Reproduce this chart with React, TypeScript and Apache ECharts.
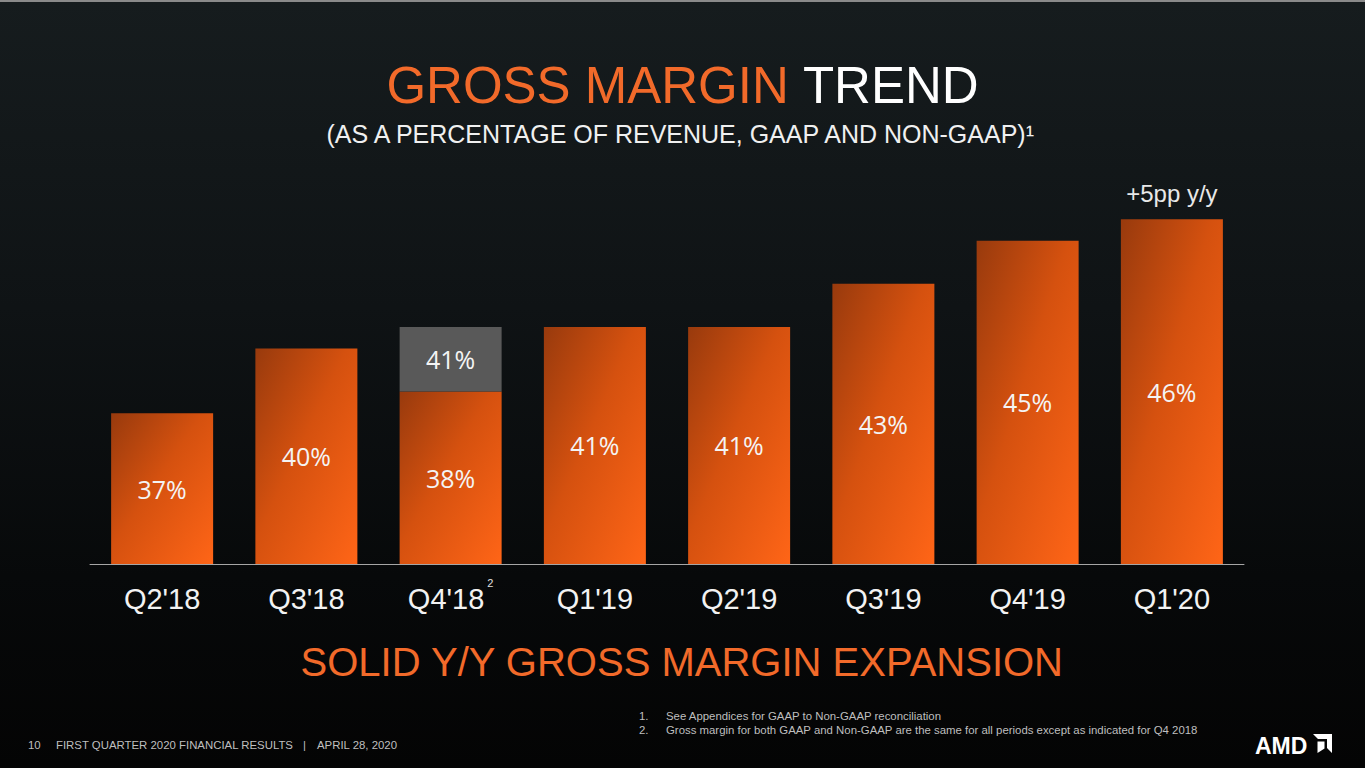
import React, { useEffect, useRef } from 'react';
import * as echarts from 'echarts';

const quarters = ["Q2'18", "Q3'18", "Q4'18", "Q1'19", "Q2'19", "Q3'19", "Q4'19", "Q1'20"];
const gaapMargin = [37, 40, 38, 41, 41, 43, 45, 46];
const nonGaapMargin = [37, 40, 41, 41, 41, 43, 45, 46];
const footnoteQuarter = "Q4'18";
const yoyNote = '+5pp y/y';
const footnotes = [
  'See Appendices for GAAP to Non-GAAP reconciliation',
  'Gross margin for both GAAP and Non-GAAP are the same for all periods except as indicated for Q4 2018',
];

const ORANGE = '#f26a2a';
const FOOT = { fontFamily: 'Liberation Sans', fontSize: 11.4, fill: '#bfbfbf' };

export default function App() {
  const ref = useRef<HTMLDivElement>(null);

  useEffect(() => {
    if (!ref.current) return;
    const chart = echarts.init(ref.current, null, { renderer: 'svg' });

    // non-GAAP uplift stacked on top of GAAP (only where they differ)
    const uplift = nonGaapMargin.map((v, i) => (v - gaapMargin[i] > 0 ? v - gaapMargin[i] : '-'));
    const last = quarters.length - 1;

    const barFill = {
      type: 'linear', x: 0, y: 0, x2: 1, y2: 1,
      colorStops: [
        { offset: 0, color: '#983a0d' },
        { offset: 0.45, color: '#d5510f' },
        { offset: 1, color: '#ff6517' },
      ],
    };

    chart.setOption({
      animation: false,
      backgroundColor: '#08090a',
      grid: { left: 90, right: 121, top: 133, bottom: 204 },
      xAxis: {
        type: 'category',
        data: quarters,
        axisLine: { lineStyle: { color: '#a6a6a6', width: 1 } },
        axisTick: { show: false },
        axisLabel: {
          margin: 13,
          formatter: (v: string) => (v === footnoteQuarter ? `{a|${v}}{s|2}` : `{a|${v}}`),
          rich: {
            a: { fontFamily: 'Liberation Sans', fontSize: 29, color: '#f2f2f2', lineHeight: 44 },
            s: { fontFamily: 'Liberation Sans', fontSize: 11, color: '#e0e0e0', lineHeight: 11, verticalAlign: 'top', padding: [0, 0, 0, 3] },
          },
        },
      },
      yAxis: { type: 'value', min: 30, max: 50, show: false, splitLine: { show: false } },
      series: [
        {
          name: 'GAAP',
          type: 'bar',
          stack: 'gm',
          barWidth: 102,
          data: gaapMargin,
          itemStyle: { color: barFill },
          label: {
            show: true,
            position: 'inside',
            formatter: '{c}%',
            fontFamily: 'Open Sans',
            fontSize: 25,
            color: '#f4f4f4',
          },
          markPoint: {
            symbol: 'rect',
            symbolSize: 0,
            data: [{ coord: [quarters[last], gaapMargin[last]] }],
            label: {
              show: true,
              position: 'top',
              distance: 14,
              formatter: yoyNote,
              fontFamily: 'Liberation Sans',
              fontSize: 24,
              color: '#e8e8e8',
            },
          },
        },
        {
          name: 'Non-GAAP',
          type: 'bar',
          stack: 'gm',
          barWidth: 102,
          data: uplift,
          itemStyle: { color: '#595959' },
          label: {
            show: true,
            position: 'inside',
            formatter: (p: any) => `${nonGaapMargin[p.dataIndex]}%`,
            fontFamily: 'Open Sans',
            fontSize: 25,
            color: '#f4f4f4',
          },
        },
      ],
      graphic: [
        {
          type: 'rect', z: -10, silent: true,
          shape: { x: 0, y: 0, width: 1365, height: 768 },
          style: {
            fill: {
              type: 'linear', x: 0, y: 0, x2: 0, y2: 1,
              colorStops: [
                { offset: 0, color: '#161c1e' },
                { offset: 0.4, color: '#0f1315' },
                { offset: 0.75, color: '#07090a' },
                { offset: 1, color: '#040404' },
              ],
            },
          },
        },
        { type: 'rect', z: -9, shape: { x: 0, y: 0, width: 1365, height: 2 }, style: { fill: '#8a8a8a' } },
        {
          type: 'text', left: 'center', top: 60,
          style: {
            text: '{o|GROSS MARGIN }{w|TREND}',
            rich: {
              o: { fontFamily: 'Liberation Sans', fontSize: 51, fill: ORANGE },
              w: { fontFamily: 'Liberation Sans', fontSize: 51, fill: '#ffffff' },
            },
          },
        },
        {
          type: 'text', left: 'center', top: 121,
          style: {
            text: '(AS A PERCENTAGE OF REVENUE, GAAP AND NON-GAAP)\u00b9',
            fontFamily: 'Liberation Sans', fontSize: 25, fill: '#f0f0f0',
          },
        },
        {
          type: 'text', left: 'center', top: 642,
          style: {
            text: 'SOLID Y/Y GROSS MARGIN EXPANSION',
            fontFamily: 'Liberation Sans', fontSize: 40, fill: ORANGE,
          },
        },
        ...footnotes.map((t, i) => ({
          type: 'group', left: 639, top: 710 + i * 14,
          children: [
            { type: 'text', x: 0, y: 0, style: { text: `${i + 1}.`, ...FOOT } },
            { type: 'text', x: 27, y: 0, style: { text: t, ...FOOT } },
          ],
        })),
        { type: 'text', left: 28, top: 739, style: { text: '10', ...FOOT } },
        { type: 'text', left: 56, top: 739, style: { text: 'FIRST QUARTER 2020 FINANCIAL RESULTS', ...FOOT } },
        { type: 'text', left: 303, top: 739, style: { text: '|', ...FOOT } },
        { type: 'text', left: 317, top: 739, style: { text: 'APRIL 28, 2020', ...FOOT } },
        {
          type: 'text', left: 1255, top: 734,
          style: { text: 'AMD', fontFamily: 'Liberation Sans', fontWeight: 'bold', fontSize: 23, fill: '#ffffff' },
        },
        {
          type: 'group', x: 1313, y: 734,
          children: [
            { type: 'polygon', shape: { points: [[0, 0], [19, 0], [19, 19], [14, 14], [14, 5], [5, 5]] }, style: { fill: '#ffffff' } },
            { type: 'polygon', shape: { points: [[4.5, 7.5], [11.5, 7.5], [11.5, 14.5], [4.5, 19]] }, style: { fill: '#ffffff' } },
          ],
        },
      ],
    });

    return () => chart.dispose();
  }, []);

  return (
    <div
      ref={ref}
      style={{ position: 'fixed', left: 0, top: 0, width: '1365px', height: '768px' }}
    />
  );
}
